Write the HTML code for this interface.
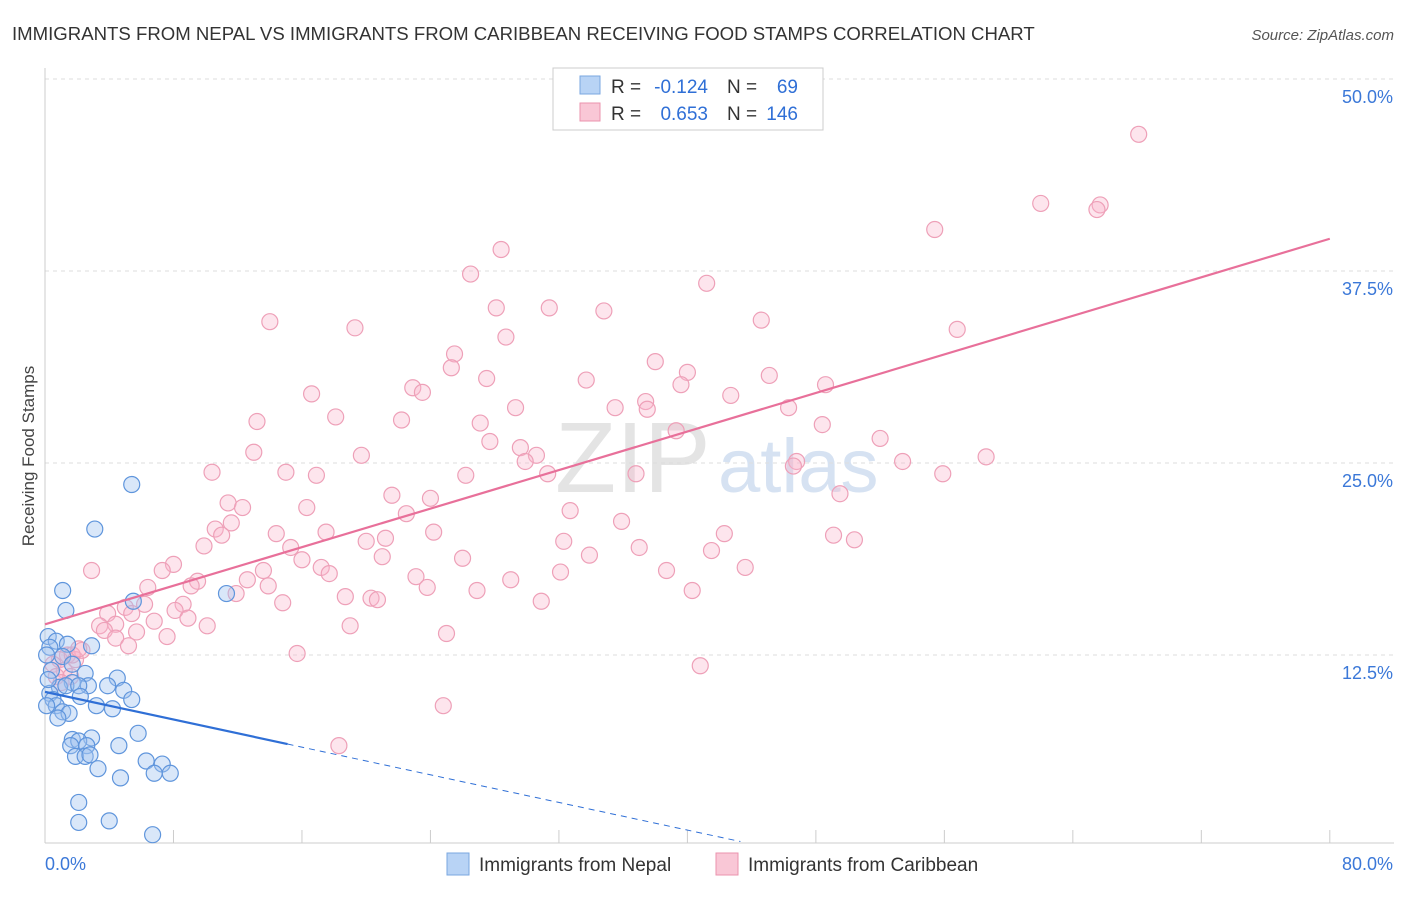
<!DOCTYPE html>
<html><head><meta charset="utf-8">
<style>
body{margin:0;background:#fff;font-family:"Liberation Sans",sans-serif;}
svg text{font-family:"Liberation Sans",sans-serif;}
</style></head>
<body>
<svg id="chart" width="1406" height="892">
<text x="12" y="40" font-size="18.6" fill="#333">IMMIGRANTS FROM NEPAL VS IMMIGRANTS FROM CARIBBEAN RECEIVING FOOD STAMPS CORRELATION CHART</text>
<text x="1394" y="40" font-size="15" fill="#555" font-style="italic" text-anchor="end">Source: ZipAtlas.com</text>
<text x="34" y="456" font-size="17" fill="#444" text-anchor="middle" transform="rotate(-90 34 456)">Receiving Food Stamps</text>
<text x="555" y="492" font-size="100" fill="#e4e4e4" font-family="Liberation Serif">ZIP</text>
<text x="718" y="492" font-size="76" fill="#d6e2f2">atlas</text>
<g id="grid"></g><g id="axes"></g><g id="pts"></g><g id="lines"></g>
<g>
<rect x="553" y="68" width="270" height="62" fill="#fff" stroke="#ccc"/>
<rect x="580" y="76" width="20" height="18" fill="#b8d3f5" stroke="#7aa7e0"/>
<rect x="580" y="103" width="20" height="18" fill="#f9c7d6" stroke="#eb93ae"/>
<text x="611" y="93" font-size="19" fill="#333">R =</text>
<text x="708" y="93" font-size="19" fill="#2f6fd6" text-anchor="end">-0.124</text>
<text x="727" y="93" font-size="19" fill="#333">N =</text>
<text x="798" y="93" font-size="19" fill="#2f6fd6" text-anchor="end">69</text>
<text x="611" y="120" font-size="19" fill="#333">R =</text>
<text x="708" y="120" font-size="19" fill="#2f6fd6" text-anchor="end">0.653</text>
<text x="727" y="120" font-size="19" fill="#333">N =</text>
<text x="798" y="120" font-size="19" fill="#2f6fd6" text-anchor="end">146</text>
</g>
<g>
<rect x="447" y="853" width="22" height="22" fill="#b8d3f5" stroke="#7aa7e0"/>
<text x="479" y="871" font-size="19" fill="#333">Immigrants from Nepal</text>
<rect x="716" y="853" width="22" height="22" fill="#f9c7d6" stroke="#eb93ae"/>
<text x="748" y="871" font-size="19" fill="#333">Immigrants from Caribbean</text>
</g>
</svg>
<script>
const yTicks=[12.5,25,37.5,50];
const yTickLabels=["12.5%","25.0%","37.5%","50.0%"];
const xTicks=[0,8,16,24,32,40,48,56,64,72,80];
const pinkX=[68.1,62.0,65.7,65.5,55.4,28.4,26.5,41.2,14.0,19.3,28.1,31.4,34.8,44.6,56.8,28.7,25.5,25.3,38.0,40.0,45.1,27.5,33.7,39.6,48.6,22.9,23.5,16.6,42.7,29.3,35.5,37.4,37.5,46.3,18.1,22.2,13.2,27.1,48.4,39.3,27.7,29.6,52.0,30.6,13.0,19.7,29.9,46.8,46.6,53.4,58.6,10.4,15.0,16.9,26.2,31.3,36.8,55.9,21.6,24.0,49.5,11.4,12.3,16.3,22.5,32.7,11.6,10.6,11.0,17.5,24.2,35.9,14.4,42.3,49.1,50.4,20.0,21.2,32.3,9.9,15.3,37.0,41.5,16.0,21.0,26.0,33.9,8.0,13.6,17.2,17.7,7.3,2.9,43.6,38.7,32.1,23.1,29.0,12.6,9.5,9.1,6.4,13.9,23.8,26.9,11.9,40.3,18.7,20.3,20.7,30.9,14.8,8.6,6.2,5.0,3.9,8.1,5.4,8.9,6.8,4.4,3.4,10.1,19.0,5.7,3.7,7.6,4.4,25.0,5.2,2.3,15.7,1.4,0.9,1.9,0.5,40.8,1.2,0.7,1.6,1.0,24.8,18.3,1.7,2.1];
const pinkY=[46.4,41.9,41.8,41.5,40.2,38.9,37.3,36.7,34.2,33.8,35.1,35.1,34.9,34.3,33.7,33.2,32.1,31.2,31.6,30.9,30.7,30.5,30.4,30.1,30.1,29.9,29.6,29.5,29.4,28.6,28.6,29.0,28.5,28.6,28.0,27.8,27.7,27.6,27.5,27.1,26.4,26.0,26.6,25.5,25.7,25.5,25.1,25.1,24.8,25.1,25.4,24.4,24.4,24.2,24.2,24.3,24.3,24.3,22.9,22.7,23.0,22.4,22.1,22.1,21.7,21.9,21.1,20.7,20.3,20.5,20.5,21.2,20.4,20.4,20.3,20.0,19.9,20.1,19.9,19.6,19.5,19.5,19.3,18.7,18.9,18.8,19.0,18.4,18.0,18.2,17.8,18.0,18.0,18.2,18.0,17.9,17.6,17.4,17.4,17.3,17.0,16.9,17.0,16.9,16.7,16.5,16.7,16.3,16.2,16.1,16.0,15.9,15.8,15.8,15.6,15.2,15.4,15.2,14.9,14.7,14.5,14.4,14.4,14.4,14.0,14.1,13.7,13.6,13.9,13.1,12.8,12.6,12.5,12.2,12.2,11.9,11.8,11.5,11.1,11.1,10.7,9.2,6.6,12.5,12.9];
const blueX=[5.4,3.1,11.3,1.1,1.3,5.5,0.2,0.7,1.4,2.9,0.3,1.1,1.7,2.5,0.4,4.5,1.7,0.9,2.7,1.3,0.3,2.1,3.9,4.9,0.5,2.2,0.7,3.2,5.4,4.2,1.1,1.5,0.8,5.8,1.7,2.9,2.1,2.6,1.6,4.6,1.9,2.5,2.8,6.3,7.3,3.3,6.8,7.8,4.7,2.1,2.1,4.0,6.7,0.1,0.2,0.1];
const blueY=[23.6,20.7,16.5,16.7,15.4,16.0,13.7,13.4,13.2,13.1,13.0,12.4,11.9,11.3,11.5,11.0,10.7,10.4,10.5,10.5,10.0,10.5,10.5,10.2,9.6,9.8,9.2,9.2,9.6,9.0,8.8,8.7,8.4,7.4,7.0,7.1,6.9,6.6,6.6,6.6,5.9,5.9,6.0,5.6,5.4,5.1,4.8,4.8,4.5,2.9,1.6,1.7,0.8,12.5,10.9,9.2];
const pinkLine=[14.5,39.6];
const blueLine=[10.1,-0.225];
const blueSolidEnd=15.1, blueDashEnd=43.3;

const NS="http://www.w3.org/2000/svg";
const X=v=>45+v*16.06, Y=v=>847-v*15.36;
function mk(tag,attrs,parent){const e=document.createElementNS(NS,tag);for(const k in attrs)e.setAttribute(k,attrs[k]);document.getElementById(parent).appendChild(e);return e;}
yTicks.forEach((t,i)=>{
  const g=mk('line',{x1:45,x2:1394,y1:Y(t),y2:Y(t),stroke:'#ddd','stroke-dasharray':'4,4'},'grid');
  
  
  const l=mk('text',{x:1393,y:Y(t)+24,'font-size':18,fill:'#3b78d8','text-anchor':'end'},'grid');
  l.textContent=yTickLabels[i];
  
  
});
mk('line',{x1:45,x2:45,y1:68,y2:843,stroke:'#ccc'},'axes');
mk('line',{x1:45,x2:1394,y1:843,y2:843,stroke:'#ccc'},'axes');
xTicks.forEach(t=>{const e=mk('line',{x1:X(t),x2:X(t),y1:830,y2:843,stroke:'#ccc'},'axes');
  
  });
const x0=mk('text',{x:45,y:870,'font-size':18,fill:'#3b78d8'},'axes');x0.textContent='0.0%';


const x1=mk('text',{x:1393,y:870,'font-size':18,fill:'#3b78d8','text-anchor':'end'},'axes');x1.textContent='80.0%';


pinkX.forEach((v,i)=>{const c=mk('circle',{cx:X(v),cy:Y(pinkY[i]),r:8,fill:'rgba(248,180,202,0.35)',stroke:'#eea0b8','stroke-width':1.2},'pts');
  
  });
blueX.forEach((v,i)=>{const c=mk('circle',{cx:X(v),cy:Y(blueY[i]),r:8,fill:'rgba(160,195,240,0.4)',stroke:'#5f95dc','stroke-width':1.2},'pts');
  
  });
const pl=mk('line',{x1:X(0),y1:Y(pinkLine[0]),x2:X(80),y2:Y(pinkLine[1]),stroke:'#e8709a','stroke-width':2.2},'lines');


const bl=mk('line',{x1:X(0),y1:Y(blueLine[0]),x2:X(blueSolidEnd),y2:Y(blueLine[0]+blueLine[1]*blueSolidEnd),stroke:'#2f6fd6','stroke-width':2.2},'lines');


const bd=mk('line',{x1:X(blueSolidEnd),y1:Y(blueLine[0]+blueLine[1]*blueSolidEnd),x2:X(blueDashEnd),y2:Y(blueLine[0]+blueLine[1]*blueDashEnd),stroke:'#2f6fd6','stroke-width':1,'stroke-dasharray':'6,5'},'lines');


</script>
</body></html>
